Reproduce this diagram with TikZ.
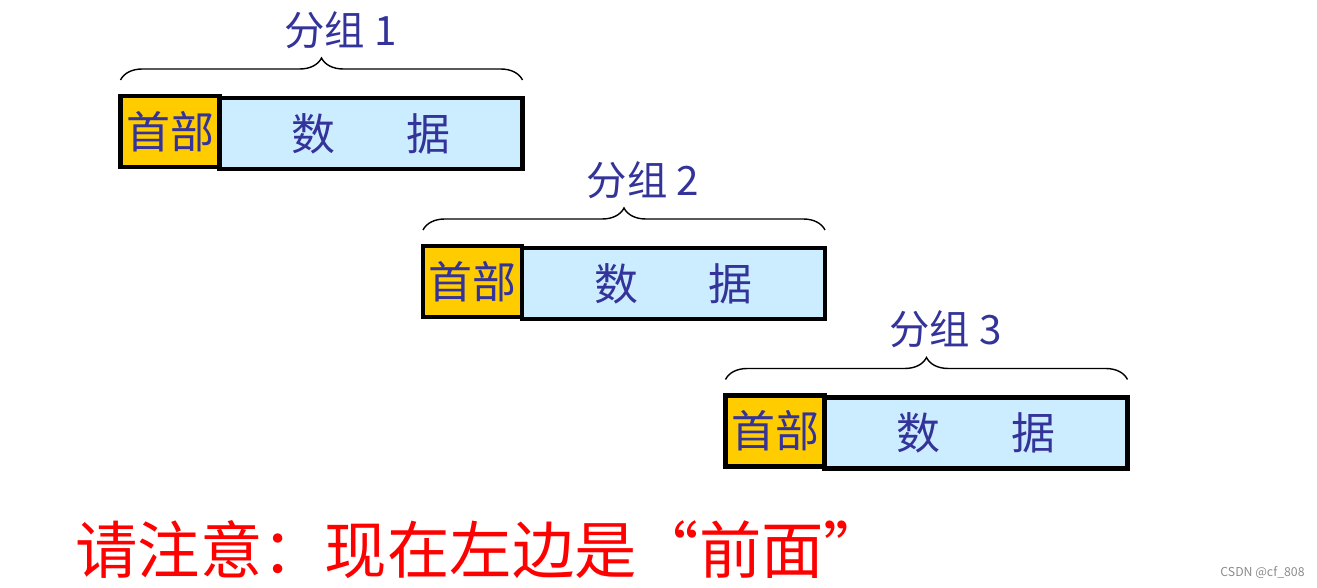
\documentclass[tikz,border=0pt]{standalone}
\usepackage{fontspec}
\setmainfont{Noto Sans CJK SC}
\usetikzlibrary{positioning,decorations.pathreplacing}
\definecolor{pktblue}{RGB}{51,51,153}
\definecolor{hdryellow}{RGB}{255,204,0}
\definecolor{datacyan}{RGB}{204,236,255}
\tikzset{
  hdrbox/.style={draw=black, line width=2.3pt, fill=hdryellow, outer sep=0pt, inner sep=0pt, minimum width=1.98cm, minimum height=1.42cm, text=pktblue, font=\fontsize{25}{25}\selectfont},
  databox/.style={draw=black, line width=2.3pt, fill=datacyan, outer sep=0pt, inner sep=0pt, minimum width=6.06cm, minimum height=1.42cm, text=pktblue, font=\fontsize{25}{25}\selectfont},
  grpbrace/.style={decorate, decoration={brace, amplitude=0.44cm}, line width=0.8pt, draw=black},
  grplabel/.style={text=pktblue, font=\fontsize{23}{23}\selectfont, inner sep=0pt},
  note/.style={text=red, font=\fontsize{35.5}{35.5}\selectfont, inner sep=0pt}
}
\begin{document}
\begin{tikzpicture}
  \useasboundingbox (0,0) rectangle (26.34,-11.76);

  % three packets, each shifted right and down
  \foreach \i/\cx/\cy in {1/3.40/-2.63, 2/9.45/-5.63, 3/15.50/-8.62}{
    \node[hdrbox] (h\i) at (\cx,\cy) {首部};
    \node[databox, anchor=west, yshift=-0.04cm] (d\i) at (h\i.east) {数\hspace{1.6em}据};
    \coordinate (bl\i) at ([yshift=0.32cm]h\i.north west);
    \coordinate (br\i) at (bl\i -| d\i.east);
    \draw[grpbrace] (bl\i) -- (br\i)
      node[grplabel, midway, xshift=0.38cm, yshift=1.0cm] {分组 \i};
  }

  \node[note, anchor=west] (note) at (1.5,-11.0) {请注意：现在左边是“前面”};
  \node[text=black!45, font=\fontsize{7}{7}\selectfont, inner sep=0pt] (mark) at (25.25,-11.45) {CSDN @cf\_808};
\end{tikzpicture}
\end{document}
